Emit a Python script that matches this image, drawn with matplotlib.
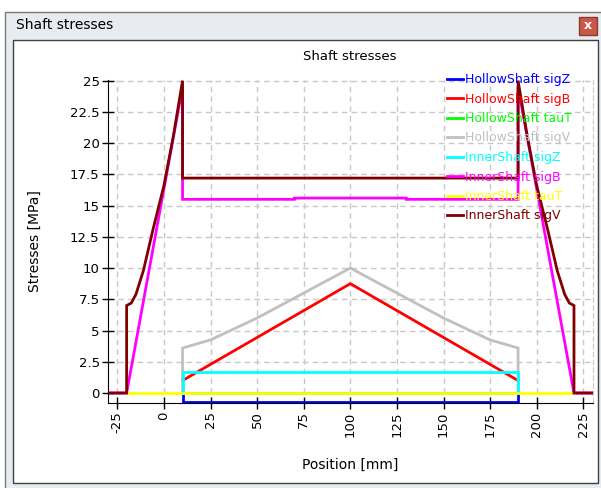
# -*- coding: utf-8 -*-

# =============================================================================
# Imports
# =============================================================================
import matplotlib
matplotlib.use('Agg')
import matplotlib.pyplot as plt
from matplotlib.patches import Rectangle

# =============================================================================
# Data
# =============================================================================
hollow_sigZ_x = [10, 10, 190, 190]
hollow_sigZ_y = [0, -0.75, -0.75, 0]

hollow_sigB_x = [10, 100, 190]
hollow_sigB_y = [1.0, 8.75, 1.0]

hollow_tauT_x = [10, 190]
hollow_tauT_y = [0, 0]

hollow_sigV_x = [10, 10, 25, 50, 75, 100, 125, 150, 175, 190, 190]
hollow_sigV_y = [0, 3.6, 4.25, 6.0, 8.0, 10.0, 8.0, 6.0, 4.25, 3.6, 0]

inner_sigZ_x = [10, 10, 190, 190]
inner_sigZ_y = [0, 1.7, 1.7, 0]

inner_sigB_x = [-30, -20, 10, 10, 70, 70, 130, 130, 190, 190, 220, 230]
inner_sigB_y = [0, 0, 24.5, 15.5, 15.5, 15.6, 15.6, 15.5, 15.5, 24.5, 0, 0]

inner_tauT_x = [-20, 220]
inner_tauT_y = [0, 0]

inner_sigV_x = [-30, -20, -20, -17.5, -15, -11, -6, 0, 5, 10, 10,
                190, 190, 195, 200, 206, 211, 215, 217.5, 220, 220, 230]
inner_sigV_y = [0, 0, 7, 7.2, 7.9, 9.8, 13.0, 16.6, 20.5, 25, 17.2,
                17.2, 25, 20.5, 16.6, 13.0, 9.8, 7.9, 7.2, 7, 0, 0]

series = [
    ("HollowShaft sigZ", hollow_sigZ_x, hollow_sigZ_y, "#0000ff"),
    ("HollowShaft sigB", hollow_sigB_x, hollow_sigB_y, "#ff0000"),
    ("HollowShaft tauT", hollow_tauT_x, hollow_tauT_y, "#00ff00"),
    ("HollowShaft sigV", hollow_sigV_x, hollow_sigV_y, "#c0c0c0"),
    ("InnerShaft sigZ", inner_sigZ_x, inner_sigZ_y, "#00ffff"),
    ("InnerShaft sigB", inner_sigB_x, inner_sigB_y, "#ff00ff"),
    ("InnerShaft tauT", inner_tauT_x, inner_tauT_y, "#ffff00"),
    ("InnerShaft sigV", inner_sigV_x, inner_sigV_y, "#800000"),
]

x_ticks = list(range(-25, 226, 25))
y_ticks = [0, 2.5, 5, 7.5, 10, 12.5, 15, 17.5, 20, 22.5, 25]
y_labels = ["0", "2.5", "5", "7.5", "10", "12.5", "15", "17.5", "20", "22.5", "25"]

# =============================================================================
# Figure + window frame
# =============================================================================
W, H = 601, 488
plt.rcParams['font.family'] = ['DejaVu Sans']
plt.rcParams['axes.unicode_minus'] = False
fig = plt.figure(figsize=(W / 100, H / 100), dpi=100)
fig.patch.set_facecolor('white')


def box(x0, y0, x1, y1, **kw):
    # pixel box (top-left origin) -> figure fraction
    r = Rectangle((x0 / W, 1 - y1 / H), (x1 - x0) / W, (y1 - y0) / H,
                  transform=fig.transFigure, zorder=-10, **kw)
    fig.add_artist(r)


box(5, 12, 602, 490, facecolor='#e8ecf1', edgecolor='#7a7a7a', lw=1)
box(12.5, 39.5, 598, 483, facecolor='white', edgecolor='#404040', lw=1)
box(579, 17, 597, 35, facecolor='#c9574a', edgecolor='#8b3a30', lw=1)
fig.text(588 / W, 1 - 25.5 / H, 'x', color='white', fontsize=9,
         fontweight='bold', ha='center', va='center')
fig.text(16 / W, 1 - 25 / H, 'Shaft stresses', fontsize=10,
         ha='left', va='center')

# =============================================================================
# Chart
# =============================================================================
ax = fig.add_axes([108 / W, 1 - 403 / H, (593 - 108) / W, (403 - 80) / H])
ax.patch.set_alpha(0)

for label, xs, ys, col in series:
    ax.plot(xs, ys, color=col, lw=2, label=label, solid_joinstyle='miter')

ax.set_xlim(-30, 230.2)
ax.set_ylim(-0.8, 25.05)
ax.set_xticks(x_ticks)
ax.set_yticks(y_ticks)
ax.set_yticklabels(y_labels)
ax.tick_params(direction='inout', length=8, width=1, labelsize=9.5,
               pad=2)
plt.setp(ax.get_xticklabels(), rotation=90)

ax.grid(True, color='#c8c8c8', linestyle=(0, (4, 3)), linewidth=1)
ax.set_axisbelow(True)
ax.spines['top'].set_visible(False)
ax.spines['right'].set_color('#c8c8c8')
ax.spines['right'].set_linestyle((0, (4, 3)))

fig.text(350 / W, 1 - 57 / H, 'Shaft stresses', fontsize=9.5,
         ha='center', va='center')
fig.text(350 / W, 1 - 465 / H, 'Position [mm]', fontsize=10,
         ha='center', va='center')
fig.text(35 / W, 1 - 241 / H, 'Stresses [MPa]', fontsize=10,
         ha='center', va='center', rotation=90)

ax.legend(loc='upper left', bbox_to_anchor=(447 / W, 1 - 73 / H),
          bbox_transform=fig.transFigure, frameon=False,
          labelcolor='linecolor', handlelength=1.3, handletextpad=0.15,
          labelspacing=0.52, borderpad=0, borderaxespad=0, fontsize=9)

fig.savefig('out.png', dpi=100, facecolor=fig.get_facecolor())
